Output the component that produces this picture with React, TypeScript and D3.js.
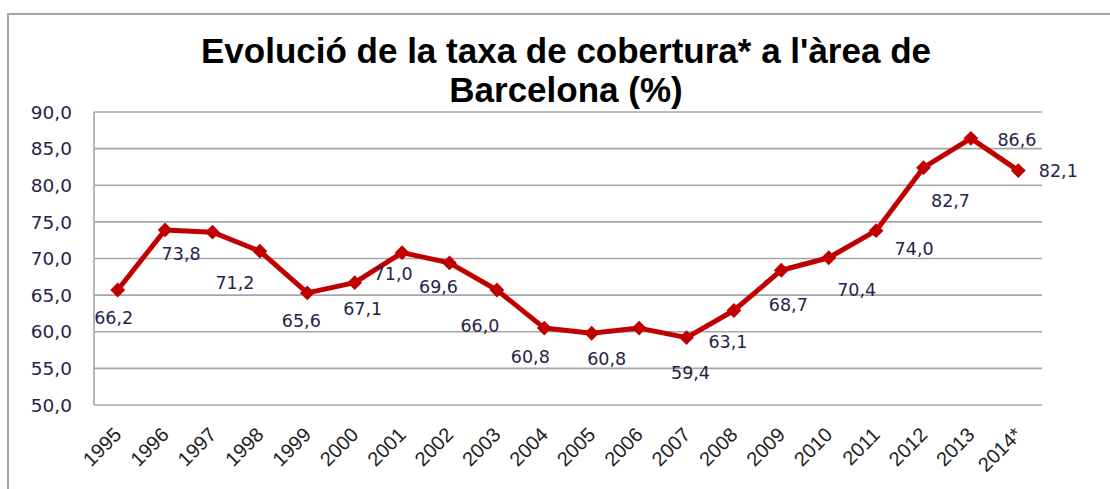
import * as d3 from 'd3';

// years on the x axis
const years = ['1995', '1996', '1997', '1998', '1999', '2000', '2001', '2002', '2003', '2004',
    '2005', '2006', '2007', '2008', '2009', '2010', '2011', '2012', '2013', '2014*'];

// plotted values
const values = [65.7, 73.9, 73.6, 71.0, 65.3, 66.7, 70.8, 69.4, 65.7, 60.5,
    59.8, 60.5, 59.2, 62.9, 68.4, 70.1, 73.8, 82.4, 86.4, 82.0];

// data label texts as printed in the chart (null = no label)
const labels = ['66,2', '73,8', null, '71,2', '65,6', '67,1', '71,0', '69,6', '66,0', '60,8',
    '60,8', null, '59,4', '63,1', '68,7', '70,4', '74,0', '82,7', '86,6', '82,1'];

const yTicks = [50, 55, 60, 65, 70, 75, 80, 85, 90];

// where each label sits relative to its marker (layout only)
const labelOffsets: [number, number][] = [
    [-4, 28], [16, 24], [0, 0], [-25, 32], [-6, 28], [8, 26], [-9, 21], [-11, 24], [-17, 36], [-14, 29],
    [15, 25], [0, 0], [4, 35], [-6, 31], [7, 34], [28, 32], [38, 18], [27, 33], [46, 1], [40, 0],
];

const W = 1110;
const H = 489;
const plot = { left: 94, right: 1042, top: 112, bottom: 405 };

const App = () => {
    const x = d3.scaleBand().domain(years).range([plot.left, plot.right]);
    const y = d3.scaleLinear().domain([50, 90]).range([plot.bottom, plot.top]);
    const cx = (yr: string) => (x(yr) ?? 0) + x.bandwidth() / 2;

    const line = d3.line<number>()
        .x((_, i) => cx(years[i]))
        .y(d => y(d));

    const marker = d3.symbol().type(d3.symbolSquare).size(110)() ?? '';
    const grid = '#a6a6a6';
    const textCol = '#24244a';

    return (
        <svg width={W} height={H} style={{ position: 'absolute', left: 0, top: 0, background: '#fff' }}>
            <rect x={8} y={14} width={W + 20} height={H + 20} fill="#fff" stroke={grid} strokeWidth={2} />

            <text x={566} y={63} textAnchor="middle" fontFamily="'Liberation Sans', Arial, sans-serif"
                fontWeight="bold" fontSize={35} fill="#000">Evolució de la taxa de cobertura* a l'àrea de</text>
            <text x={566} y={102} textAnchor="middle" fontFamily="'Liberation Sans', Arial, sans-serif"
                fontWeight="bold" fontSize={35} fill="#000">Barcelona (%)</text>

            {yTicks.map(t => (
                <g key={t}>
                    <line x1={plot.left} x2={plot.right} y1={y(t)} y2={y(t)} stroke={grid} strokeWidth={1.6} />
                    <text x={72} y={y(t)} dy="0.36em" textAnchor="end" fontFamily="'DejaVu Sans', Verdana, sans-serif"
                        fontSize={18.5} fill={textCol}>{d3.format('.1f')(t).replace('.', ',')}</text>
                </g>
            ))}
            <line x1={plot.left} x2={plot.left} y1={plot.top} y2={plot.bottom} stroke={grid} strokeWidth={1.6} />

            {years.map(yr => (
                <text key={yr} transform={`translate(${cx(yr) + 5},${plot.bottom + 31}) rotate(-45)`}
                    textAnchor="end" fontFamily="'Liberation Sans', Arial, sans-serif" fontSize={20} fill="#222">{yr}</text>
            ))}

            <path d={line(values) ?? ''} fill="none" stroke="#c00000" strokeWidth={5} strokeLinejoin="round" />
            {values.map((v, i) => (
                <path key={i} d={marker} transform={`translate(${cx(years[i])},${y(v)}) rotate(45)`} fill="#c00000" />
            ))}

            {labels.map((l, i) => l && (
                <text key={i} x={cx(years[i]) + labelOffsets[i][0]} y={y(values[i]) + labelOffsets[i][1]} dy="0.36em"
                    textAnchor="middle" fontFamily="'DejaVu Sans', Verdana, sans-serif" fontSize={17.5} fill={textCol}>{l}</text>
            ))}
        </svg>
    );
};

export default App;
